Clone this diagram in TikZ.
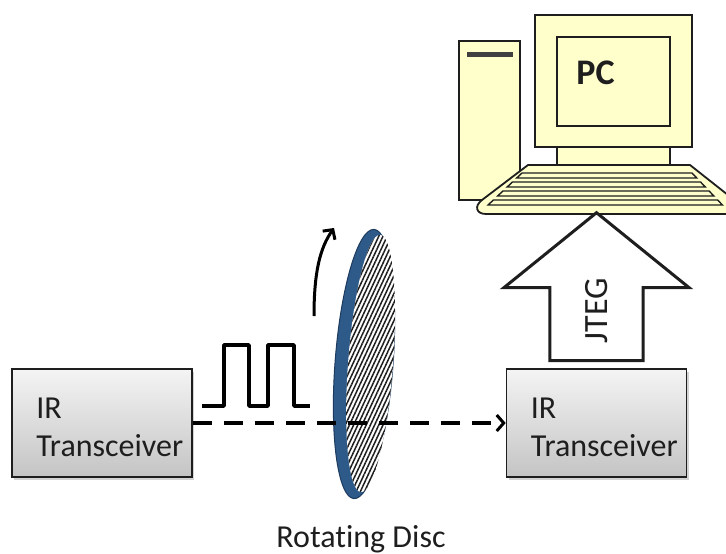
\documentclass[tikz,border=0pt]{standalone}
\usepackage{fontspec}
\setmainfont[Ligatures=NoCommon]{Carlito}
\usepackage{tikz}
\usetikzlibrary{arrows.meta,positioning,shapes.arrows,shadows,patterns.meta,calc}
\definecolor{ink}{HTML}{1E1E1E}
\definecolor{pcy}{HTML}{FFFFCC}
\definecolor{disc}{HTML}{2E5A8A}
\definecolor{discedge}{HTML}{1D3B5E}
\definecolor{boxtop}{HTML}{F4F4F4}
\definecolor{boxbot}{HTML}{C4C4C4}
\tikzset{
  xcvr/.style={draw=ink, line width=1.6pt, top color=boxtop, bottom color=boxbot,
    minimum width=180pt, minimum height=108pt, inner sep=0pt,
    drop shadow={shadow xshift=2pt, shadow yshift=-3pt, opacity=0.35}},
  xlbl/.style={align=left, inner sep=0pt, text=ink, font=\fontsize{32}{38}\selectfont},
  beam/.style={dash pattern=on 19pt off 12pt, line width=3.5pt,
    -{Straight Barb[length=7pt,width=16pt,line width=3pt]}},
  pulse/.style={line width=3.5pt, line join=round},
  spin/.style={line width=3pt, -{Straight Barb[length=7pt,width=15pt]}},
  pcpart/.style={draw=ink, line width=1.8pt, fill=pcy},
  slot/.style={draw=ink, line width=1.4pt, fill=pcy},
  bigarrow/.style={single arrow, draw=ink, line width=3pt, fill=white,
    minimum height=148pt, single arrow head extend=46pt,
    single arrow tip angle=102, inner xsep=4pt, inner ysep=34pt, text=ink,
    font=\fontsize{34}{40}\selectfont},
}
\newcommand{\xcvr}[3]{%
  \node[xcvr] (#1) at (#2,#3) {};
  \node[xlbl, anchor=west] (#1lbl) at ([xshift=25pt,yshift=-4pt]#1.west) {IR\\Transceiver};}

\begin{document}
\begin{tikzpicture}[x=1pt,y=-1pt]
  \useasboundingbox (0,0) rectangle (726,554);
  % computer: tower, monitor, keyboard
  \begin{scope}
    \clip (0,0) rectangle (726,554);
    \draw[pcpart] (459,41) rectangle (520,200);
    \fill[ink!85] (467,52) rectangle (513,57);
    \draw[pcpart] (535,15) rectangle (692,147);
    \draw[pcpart] (557,37) rectangle (670,126);
    \draw[pcpart] (557,147) rectangle (670,165);
    \draw[pcpart, line join=round] (528,165) -- (690,165) -- (752,214) -- (486,214)
      .. controls (476,214) and (474,206) .. (482,200) -- cycle;
    \foreach \t in {173,182,191,200}
      \draw[slot] ({522-(\t-173)*1.06},\t) -- ({692+(\t-173)*0.95},\t)
        -- ({692+(\t-168)*0.95},{\t+5}) -- ({522-(\t-168)*1.06},{\t+5}) -- cycle;
  \end{scope}
  \node[font=\bfseries\fontsize{36}{36}\selectfont, text=ink] (pc) at (595.5,73) {PC};

  \xcvr{tx}{102}{423}
  \xcvr{rx}{596.5}{423}

  % disc
  \begin{scope}[shift={(364,364)}, rotate=-4.3]
    \filldraw[fill=disc, draw=discedge, line width=1pt] (0,0) ellipse [x radius=29, y radius=135];
    \fill[white] (6.5,-1) ellipse [x radius=22.5, y radius=129];
    \fill[pattern={Lines[angle=65,distance=3.8pt,line width=1.5pt]}, pattern color=ink]
      (6.5,-1) ellipse [x radius=22.5, y radius=129];
  \end{scope}
  \node[xlbl, anchor=base] (disclbl) at (361,547) {Rotating Disc};

  \coordinate (spin0) at (314,316);
  \coordinate (spin1) at (334,228);
  \draw[spin] (spin0) .. controls (314,272) and (320,248) .. (spin1);

  \draw[pulse] (202,406) -| (224,345) -| (249,406) -| (268,345) -| (294,406) -- (310,406);
  \draw[beam] (tx.east) -- (rx.west);

  \node[bigarrow, rotate=90, anchor=tail] (jteg) at ([yshift=6pt]rx.north) {JTEG\hspace*{10pt}};
\end{tikzpicture}
\end{document}
